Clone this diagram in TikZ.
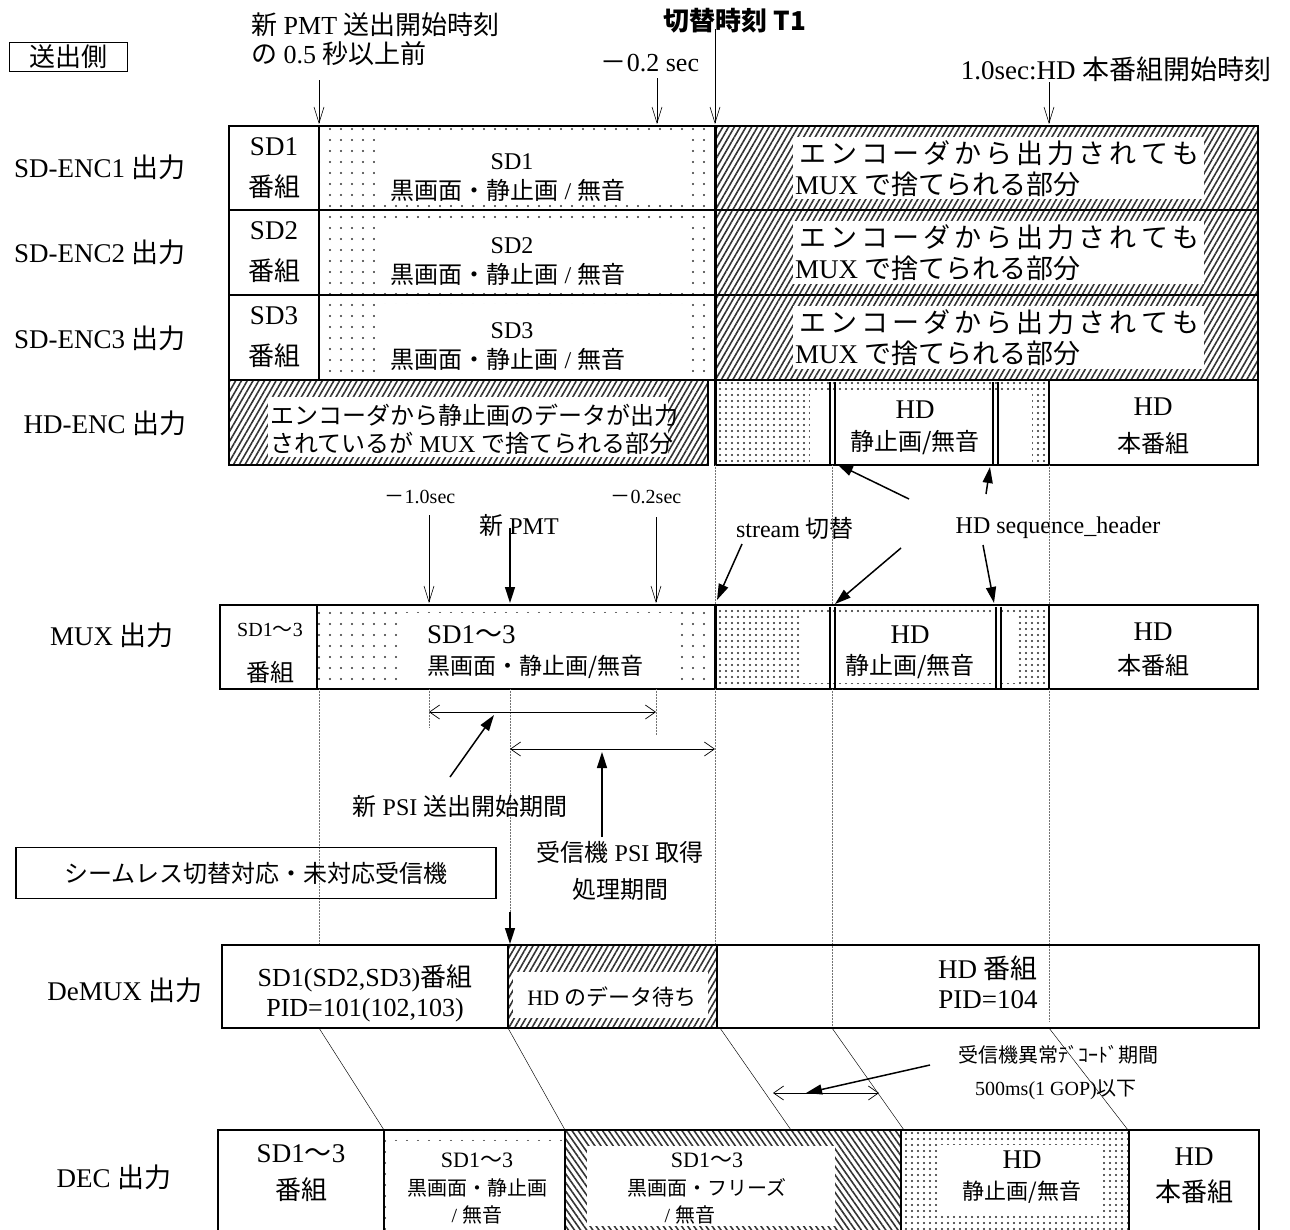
\documentclass[tikz,border=0pt]{standalone}
\usepackage{fontspec}
\setmainfont{Liberation Serif}
\newfontfamily\jp{Noto Sans CJK JP}
\usetikzlibrary{patterns.meta,arrows.meta}
\newcommand\fsz[1]{\fontsize{#1}{#1}\selectfont}
\newcommand\encline{{\jp\makebox[408pt]{エ\hfil ン\hfil コ\hfil ー\hfil ダ\hfil か\hfil ら\hfil 出\hfil 力\hfil さ\hfil れ\hfil て\hfil も}}}
\tikzset{
  box/.style={draw, line width=1.2pt},
  sdot/.style={pattern={Dots[distance=11pt,radius=1.1pt]}, pattern color=black!80},
  ddot/.style={pattern={Dots[distance=6pt,radius=1.1pt]}, pattern color=black!85},
  hatch/.style={pattern={Lines[angle=60,distance=5pt,line width=1.6pt]}, pattern color=black!80},
  bhatch/.style={pattern={Lines[angle=-55,distance=5pt,line width=1.6pt]}, pattern color=black!80},
  guide/.style={densely dotted, line width=0.5pt, black!55},
  slant/.style={line width=0.45pt},
  t1line/.style={line width=3pt},
  dbl/.style={line width=1.2pt},
  oarr/.style={-{Straight Barb[length=16pt,width=10pt]}, line width=0.6pt},
  farr/.style={-{Triangle[length=16pt,width=10pt]}, line width=1.5pt},
  darr/.style={{Straight Barb[length=10pt,width=14pt]}-{Straight Barb[length=10pt,width=14pt]}, line width=0.7pt},
  t27/.style={font=\fsz{27}},
  t26/.style={font=\fsz{26}},
  t24/.style={font=\fsz{24}},
  t23/.style={font=\fsz{23}},
  t22/.style={font=\fsz{22}},
  t20/.style={font=\fsz{20}},
}
\begin{document}
\begin{tikzpicture}[x=1pt,y=-1pt, every node/.style={inner sep=0pt, align=center}]
\useasboundingbox (0,0) rectangle (1290,1229);
\clip (0,0) rectangle (1290,1229);

% ---------- top header ----------
\node[draw, line width=0.9pt, minimum width=118pt, minimum height=29pt, t26] (side) at (68,57) {\jp 送出側};
\node[t26, anchor=west] (pmt1) at (251,25) {{\jp 新} PMT {\jp 送出開始時刻}};
\node[t26, anchor=west] (pmt2) at (251,54) {{\jp の} 0.5 {\jp 秒以上前}};
\node[t26] (m02) at (650,63) {{\jp －}0.2 sec};
\node[font=\fsz{26}\bfseries] (t1) at (735,21) {\jp 切替時刻 T1};
\node[t27] (hdstart) at (1116,69) {1.0sec:HD {\jp 本番組開始時刻}};

\coordinate (ar1s) at (319,80);  \coordinate (ar1e) at (319,124);
\coordinate (ar2s) at (657,78);  \coordinate (ar2e) at (657,124);
\coordinate (ar3s) at (715,29);  \coordinate (ar3e) at (715,124);
\coordinate (ar4s) at (1049,82); \coordinate (ar4e) at (1049,124);
\draw[oarr] (ar1s) -- (ar1e);
\draw[oarr] (ar2s) -- (ar2e);
\draw[oarr] (ar3s) -- (ar3e);
\draw[oarr] (ar4s) -- (ar4e);

% ---------- SD encoder rows ----------
\foreach \i/\t/\b/\ly in {1/126/210/167, 2/210/295/252, 3/295/380/338} {
  \fill[sdot] (319,\t) rectangle (715,\b);
  \fill[white] (375,\t+9) rectangle (690,\b-6);
  \fill[hatch] (715,\t) rectangle (1258,\b);
  \fill[white] (793,\t+11) rectangle (1204,\b-11);
  \draw[box] (229,\t) rectangle (1258,\b);
  \draw[box] (319,\t) -- (319,\b);
  \node[t27] (lab\i) at (100,\ly) {SD-ENC\i\ {\jp 出力}};
  \node[t27] (sdc\i) at (274,\t+21) {SD\i};
  \node[t26] (sdb\i) at (274,\t+61) {\jp 番組};
  \node[t24] (sdi\i) at (512,\t+36) {SD\i};
  \node[t24] (sdk\i) at (508,\t+64) {{\jp 黒画面・静止画} / {\jp 無音}};
  \node[t27, anchor=west] (enc\i) at (795,\t+27) {\encline};
  \node[t27, anchor=west] (mux\i) at (795,\t+58) {MUX {\jp で捨てられる部分}};
}

% ---------- HD encoder row ----------
\node[t27] (labhd) at (105,423) {HD-ENC {\jp 出力}};
\fill[hatch] (229,380) rectangle (708,465);
\fill[white] (268,397) rectangle (668,457);
\draw[box] (229,380) rectangle (708,465);
\node[t24, anchor=west] (hde1) at (270,415) {\jp エンコーダから静止画のデータが出力};
\node[t24, anchor=west] (hde2) at (270,443) {{\jp されているが} MUX {\jp で捨てられる部分}};
\fill[ddot] (715,380) rectangle (1049,465);
\fill[white] (810,390) rectangle (1032,465);
\draw[box] (715,380) rectangle (1049,465);
\draw[box] (1049,380) rectangle (1258,465);
\draw[dbl] (830,382) -- (830,465); \draw[dbl] (835,382) -- (835,465);
\draw[dbl] (993,382) -- (993,465); \draw[dbl] (998,382) -- (998,465);
\node[t27] (hds1) at (915,410) {HD};
\node[t24] (hds2) at (915,443) {\jp 静止画/無音};
\node[t27] (hdh1) at (1153,407) {HD};
\node[t24] (hdh2) at (1153,443) {\jp 本番組};
\draw[t1line] (715,126) -- (715,465);

% ---------- between HD-ENC and MUX ----------
\node[t20] (m10) at (420,497) {{\jp －}1.0sec};
\node[t20] (m02b) at (646,497) {{\jp －}0.2sec};
\node[t24] (npmt) at (519,525) {{\jp 新} PMT};
\node[t24] (strm) at (795,528) {stream {\jp 切替}};
\node[t24] (seqh) at (1058,528) {HD sequence\_header};

\coordinate (g1a) at (715,465);  \coordinate (g1b) at (715,605);
\coordinate (g2a) at (832,465);  \coordinate (g2b) at (832,605);
\coordinate (g3a) at (1049,465); \coordinate (g3b) at (1049,605);
\draw[guide] (g1a) -- (g1b);
\draw[guide] (g2a) -- (g2b);
\draw[guide] (g3a) -- (g3b);

\coordinate (b1s) at (429,515); \coordinate (b1e) at (429,603);
\coordinate (b2s) at (656,517); \coordinate (b2e) at (656,603);
\coordinate (b3s) at (510,528); \coordinate (b3e) at (510,603);
\coordinate (b4s) at (742,544); \coordinate (b4e) at (717,600);
\coordinate (s1s) at (909,499); \coordinate (s1e) at (837,464);
\coordinate (s2s) at (986,494); \coordinate (s2e) at (990,467);
\coordinate (s3s) at (901,548); \coordinate (s3e) at (835,604);
\coordinate (s4s) at (983,545); \coordinate (s4e) at (994,603);
\draw[oarr] (b1s) -- (b1e);
\draw[oarr] (b2s) -- (b2e);
\draw[farr] (b3s) -- (b3e);
\draw[farr] (b4s) -- (b4e);
\draw[farr] (s1s) -- (s1e);
\draw[farr] (s2s) -- (s2e);
\draw[farr] (s3s) -- (s3e);
\draw[farr] (s4s) -- (s4e);

% ---------- MUX row ----------
\node[t27] (labmux) at (112,635) {MUX {\jp 出力}};
\fill[sdot] (317,605) rectangle (715,689);
\fill[white] (400,613) rectangle (679,686);
\fill[ddot] (715,605) rectangle (1049,689);
\fill[white] (800,614) rectangle (1018,683);
\draw[box] (220,605) rectangle (1258,689);
\draw[box] (317,605) -- (317,689);
\draw[box] (1049,605) -- (1049,689);
\draw[t1line] (715,605) -- (715,689);
\draw[dbl] (830,607) -- (830,689); \draw[dbl] (835,607) -- (835,689);
\draw[dbl] (996,607) -- (996,689); \draw[dbl] (1001,607) -- (1001,689);
\node[t20] (mx1) at (270,630) {SD1{\jp ～}3};
\node[t24] (mx2) at (270,672) {\jp 番組};
\node[t27, anchor=west] (mx3) at (427,635) {SD1{\jp ～}3};
\node[t23, anchor=west] (mx4) at (427,667) {\jp 黒画面・静止画/無音};
\node[t27] (mx5) at (910,635) {HD};
\node[t24] (mx6) at (910,667) {\jp 静止画/無音};
\node[t27] (mx7) at (1153,632) {HD};
\node[t24] (mx8) at (1153,665) {\jp 本番組};

% ---------- below MUX ----------
\coordinate (d1a) at (319,689);  \coordinate (d1b) at (319,945);
\coordinate (d2a) at (429,689);  \coordinate (d2b) at (429,727);
\coordinate (d3a) at (510,689);  \coordinate (d3b) at (510,912);
\coordinate (d4a) at (656,689);  \coordinate (d4b) at (656,735);
\coordinate (d5a) at (715,689);  \coordinate (d5b) at (715,945);
\coordinate (d6a) at (832,689);  \coordinate (d6b) at (832,1028);
\coordinate (d7a) at (1049,689); \coordinate (d7b) at (1049,1022);
\foreach \k in {1,...,7} { \draw[guide] (d\k a) -- (d\k b); }

\coordinate (p1a) at (429,712); \coordinate (p1b) at (656,712);
\coordinate (p2a) at (510,749); \coordinate (p2b) at (715,749);
\draw[darr] (p1a) -- (p1b);
\draw[darr] (p2a) -- (p2b);

\node[t24] (npsi) at (460,806) {{\jp 新} PSI {\jp 送出開始期間}};
\node[t24] (rpsi1) at (620,852) {{\jp 受信機} PSI {\jp 取得}};
\node[t24] (rpsi2) at (620,889) {\jp 処理期間};
\coordinate (q1s) at (450,777); \coordinate (q1e) at (494,715);
\coordinate (q2s) at (602,837); \coordinate (q2e) at (602,752);
\draw[farr] (q1s) -- (q1e);
\draw[farr] (q2s) -- (q2e);

\node[draw, line width=1.2pt, minimum width=480pt, minimum height=51pt, t24] (seam) at (256,873) {\jp シームレス切替対応・未対応受信機};
\coordinate (q3s) at (510,912); \coordinate (q3e) at (510,944);
\draw[farr] (q3s) -- (q3e);

% ---------- DeMUX row ----------
\node[t27] (labdmx) at (125,990) {DeMUX {\jp 出力}};
\fill[hatch] (508,945) rectangle (717,1028);
\fill[white] (513,972) rectangle (708,1018);
\draw[box] (222,945) rectangle (1259,1028);
\draw[box] (508,945) -- (508,1028);
\draw[box] (717,945) -- (717,1028);
\node[t26] (dm1) at (365,978) {SD1(SD2,SD3){\jp 番組}};
\node[t26] (dm2) at (365,1010) {PID=101(102,103)};
\node[t22] (dm3) at (612,997) {HD {\jp のデータ待ち}};
\node[t27] (dm4) at (988,968) {HD {\jp 番組}};
\node[t27] (dm5) at (988,1000) {PID=104};

% ---------- slanted lines ----------
\coordinate (e1a) at (319,1028);  \coordinate (e1b) at (384,1130);
\coordinate (e2a) at (508,1028);  \coordinate (e2b) at (565,1130);
\coordinate (e3a) at (720,1028);  \coordinate (e3b) at (791,1130);
\coordinate (e4a) at (832,1028);  \coordinate (e4b) at (904,1130);
\coordinate (e5a) at (1049,1028); \coordinate (e5b) at (1128,1130);
\foreach \k in {1,...,5} { \draw[slant] (e\k a) -- (e\k b); }

\node[t20] (abn1) at (1058,1055) {\jp 受信機異常ﾃﾞｺｰﾄﾞ期間};
\node[t20] (abn2) at (1056,1090) {500ms(1 GOP){\jp 以下}};
\coordinate (p3a) at (773,1093); \coordinate (p3b) at (879,1093);
\draw[darr] (p3a) -- (p3b);
\coordinate (q4s) at (930,1065); \coordinate (q4e) at (806,1093);
\draw[farr] (q4s) -- (q4e);

% ---------- DEC row ----------
\node[t27] (labdec) at (114,1177) {DEC {\jp 出力}};
\fill[sdot] (384,1130) rectangle (565,1240);
\fill[white] (392,1141) rectangle (565,1240);
\fill[bhatch] (565,1130) rectangle (901,1240);
\fill[white] (587,1146) rectangle (835,1226);
\fill[ddot] (901,1130) rectangle (1129,1240);
\fill[white] (939,1145) rectangle (1103,1215);
\draw[box] (218,1130) rectangle (1259,1240);
\foreach \x in {384,565,901,1129} { \draw[box] (\x,1130) -- (\x,1240); }
\node[t27] (dc1) at (301,1154) {SD1{\jp ～}3};
\node[t26] (dc2) at (301,1190) {\jp 番組};
\node[t22] (dc3) at (477,1160) {SD1{\jp ～}3};
\node[t20] (dc4) at (477,1188) {\jp 黒画面・静止画};
\node[t20] (dc5) at (477,1215) {/ {\jp 無音}};
\node[t22] (dc6) at (707,1160) {SD1{\jp ～}3};
\node[t20] (dc7) at (707,1188) {\jp 黒画面・フリーズ};
\node[t20] (dc8) at (690,1215) {/ {\jp 無音}};
\node[t27] (dc9) at (1022,1160) {HD};
\node[t22] (dc10) at (1022,1192) {\jp 静止画/無音};
\node[t27] (dc11) at (1194,1157) {HD};
\node[t26] (dc12) at (1194,1192) {\jp 本番組};
\end{tikzpicture}
\end{document}
